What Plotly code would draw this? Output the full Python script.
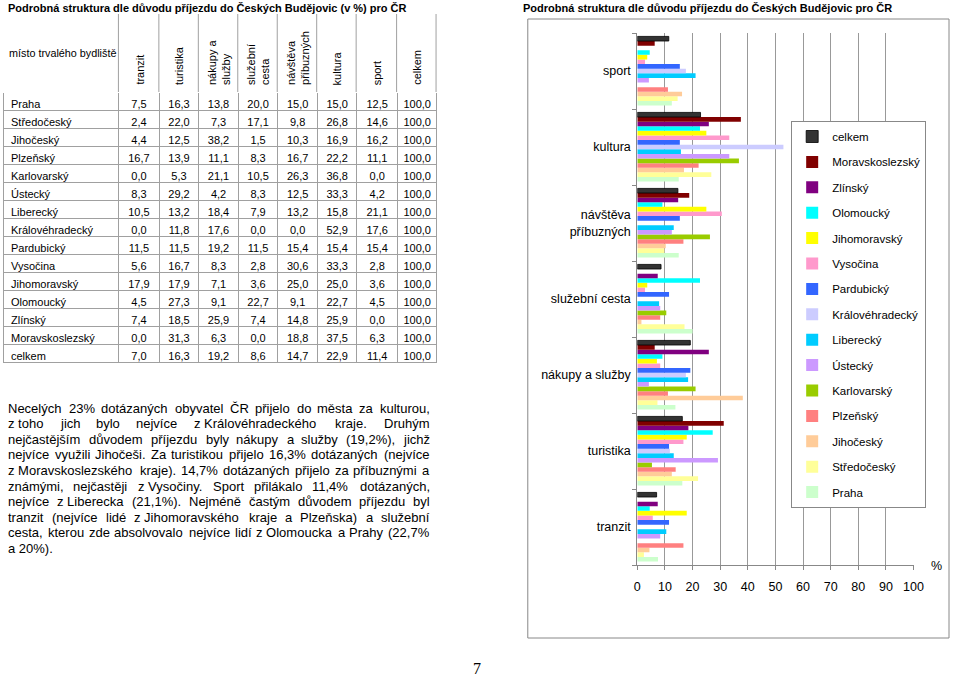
import unicodedata
import plotly.graph_objects as go

# ---------------- data ----------------
regions = ["Praha", "Středočeský", "Jihočeský", "Plzeňský", "Karlovarský", "Ústecký",
           "Liberecký", "Královéhradecký", "Pardubický", "Vysočina", "Jihomoravský",
           "Olomoucký", "Zlínský", "Moravskoslezský", "celkem"]
reasons = ["tranzit", "turistika", "nákupy a služby", "služební cesta",
           "návštěva příbuzných", "kultura", "sport"]
reason_labels = ["tranzit", "turistika", "nákupy a služby", "služební cesta",
                 "návštěva<br>příbuzných", "kultura", "sport"]
header_labels = ["tranzit", "turistika", "nákupy a<br>služby", "služební<br>cesta",
                 "návštěva<br>příbuzných", "kultura", "sport", "celkem"]

tranzit   = [7.5, 2.4, 4.4, 16.7, 0.0, 8.3, 10.5, 0.0, 11.5, 5.6, 17.9, 4.5, 7.4, 0.0, 7.0]
turistika = [16.3, 22.0, 12.5, 13.9, 5.3, 29.2, 13.2, 11.8, 11.5, 16.7, 17.9, 27.3, 18.5, 31.3, 16.3]
nakupy    = [13.8, 7.3, 38.2, 11.1, 21.1, 4.2, 18.4, 17.6, 19.2, 8.3, 7.1, 9.1, 25.9, 6.3, 19.2]
sluzebni  = [20.0, 17.1, 1.5, 8.3, 10.5, 8.3, 7.9, 0.0, 11.5, 2.8, 3.6, 22.7, 7.4, 0.0, 8.6]
navsteva  = [15.0, 9.8, 10.3, 16.7, 26.3, 12.5, 13.2, 0.0, 15.4, 30.6, 25.0, 9.1, 14.8, 18.8, 14.7]
kultura   = [15.0, 26.8, 16.9, 22.2, 36.8, 33.3, 15.8, 52.9, 15.4, 33.3, 25.0, 22.7, 25.9, 37.5, 22.9]
sport     = [12.5, 14.6, 16.2, 11.1, 0.0, 4.2, 21.1, 17.6, 15.4, 2.8, 3.6, 4.5, 0.0, 6.3, 11.4]
celkem    = [100.0] * 15

colors = {
    "celkem": "#333333", "Moravskoslezský": "#800000", "Zlínský": "#800080",
    "Olomoucký": "#00FFFF", "Jihomoravský": "#FFFF00", "Vysočina": "#FF99CC",
    "Pardubický": "#3366FF", "Královéhradecký": "#CCCCFF", "Liberecký": "#00CCFF",
    "Ústecký": "#CC99FF", "Karlovarský": "#99CC00", "Plzeňský": "#FF8080",
    "Jihočeský": "#FFCC99", "Středočeský": "#FFFF99", "Praha": "#CCFFCC",
}

title_left = "Podrobná struktura dle důvodu příjezdu do Českých Budějovic (v %) pro ČR"
title_right = "Podrobná struktura dle důvodu příjezdu do Českých Budějovic pro ČR"
text_lines = [
    "Necelých 23% dotázaných obyvatel ČR přijelo do města za kulturou,",
    "z\u00a0toho jich bylo nejvíce z\u00a0Královéhradeckého kraje. Druhým",
    "nejčastějším důvodem příjezdu byly nákupy a služby (19,2%), jichž",
    "nejvíce využili Jihočeši. Za turistikou přijelo 16,3% dotázaných (nejvíce",
    "z\u00a0Moravskoslezského kraje). 14,7% dotázaných přijelo za příbuznými a",
    "známými, nejčastěji z\u00a0Vysočiny. Sport přilákalo 11,4% dotázaných,",
    "nejvíce z\u00a0Liberecka (21,1%). Nejméně častým důvodem příjezdu byl",
    "tranzit (nejvíce lidé z\u00a0Jihomoravského kraje a Plzeňska) a služební",
    "cesta, kterou zde absolvovalo nejvíce lidí z\u00a0Olomoucka a Prahy (22,7%",
    "a 20%).",
]

# ---------------- helpers ----------------
W, H = 960, 676
FONT = "Liberation Sans, Arial, sans-serif"
GRID = "#A0A0A0"


def px(x):
    return x / W


def py(y):
    return 1 - y / H


def fmt(v):
    return f"{v:.1f}".replace(".", ",")


AW = {' ': 278, '\u00a0': 278, 'a': 556, 'b': 556, 'c': 500, 'd': 556, 'e': 556, 'f': 278,
      'g': 556, 'h': 556, 'i': 222, 'j': 222, 'k': 500, 'l': 222, 'm': 833, 'n': 556,
      'o': 556, 'p': 556, 'q': 556, 'r': 333, 's': 500, 't': 278, 'u': 556, 'v': 500,
      'w': 722, 'x': 500, 'y': 500, 'z': 500, '%': 889, '(': 333, ')': 333, ',': 278,
      '.': 278, 'C': 722, 'R': 722, 'N': 722, 'D': 722, 'K': 667, 'J': 500, 'Z': 611,
      'M': 833, 'S': 667, 'V': 667, 'O': 778, 'P': 667, 'L': 556}


def text_width(s, fs):
    tot = 0
    for ch in s:
        if ch.isdigit():
            tot += 556
            continue
        if ch == 'í':
            tot += 278
            continue
        base = unicodedata.normalize("NFD", ch)[0]
        tot += AW.get(base, 556)
    return tot * fs / 1000


cols = {"tranzit": tranzit, "turistika": turistika, "nákupy a služby": nakupy,
        "služební cesta": sluzebni, "návštěva příbuzných": navsteva,
        "kultura": kultura, "sport": sport}

fig = go.Figure()

# ---------------- table ----------------
colw = [117, 41, 40, 40, 40, 40, 40, 41, 40]
table_cols = [regions] + [[fmt(v) for v in cols[r]] for r in reasons] + [[fmt(v) for v in celkem]]
fig.add_trace(go.Table(
    domain=dict(x=[0, px(440)], y=[py(366), py(14)]),
    columnwidth=colw,
    header=dict(values=[""] * 9, height=78,
                fill=dict(color="white"), line=dict(color="white", width=1),
                font=dict(family=FONT, size=11, color="black")),
    cells=dict(values=table_cols, height=18,
               align=["left"] + ["center"] * 8,
               font=dict(family=FONT, size=11, color="black"),
               line=dict(color=GRID, width=1),
               fill=dict(color="white")),
))

# ---------------- bar chart ----------------
n = len(regions)
for i, reg in enumerate(regions):  # Praha first -> bottom of each group
    vals = [cols[r][i] for r in reasons]
    fig.add_trace(go.Bar(
        y=reason_labels, x=vals, orientation="h", name=reg, legendgroup=reg,
        legendrank=n - i,
        marker=dict(color=colors[reg],
                    line=dict(color="#000000" if reg == "celkem" else colors[reg],
                              width=0.8 if reg == "celkem" else 0)),
        hoverinfo="x+name",
    ))

fig.update_layout(
    width=W, height=H, autosize=False,
    margin=dict(l=0, r=0, t=0, b=0),
    paper_bgcolor="white", plot_bgcolor="white",
    font=dict(family=FONT, color="black"),
    barmode="group", bargap=0.09, bargroupgap=0,
    xaxis=dict(domain=[px(643), px(923)], range=[0, 100], dtick=10,
               showgrid=True, gridcolor="#999999", gridwidth=1,
               showline=True, linecolor="#888888", linewidth=1,
               ticks="outside", ticklen=4, tickcolor="#888888", ticklabelstandoff=6,
               zeroline=False, tickfont=dict(size=12.5, family=FONT)),
    yaxis=dict(domain=[py(565), py(33)], type="category",
               categoryorder="array", categoryarray=reason_labels,
               showgrid=False, showline=True, linecolor="#888888", linewidth=1,
               ticks="outside", ticklen=4, tickcolor="#888888", tickson="boundaries",
               ticklabelstandoff=3,
               zeroline=False, tickfont=dict(size=12.5, family=FONT)),
    legend=dict(x=px(799), y=py(121), xanchor="left", yanchor="top",
                traceorder="grouped", tracegroupgap=6.4,
                bgcolor="white", bordercolor="#888888", borderwidth=1,
                font=dict(size=11.5, family=FONT)),
    showlegend=True,
)

shapes = []
anns = []

# chart frame
shapes.append(dict(type="rect", xref="paper", yref="paper",
                   x0=px(532), x1=px(959), y0=py(638), y1=py(19),
                   line=dict(color="#888888", width=1), layer="below"))

# table header vertical lines
xb = 0
for w in colw:
    xb += w
    shapes.append(dict(type="line", xref="paper", yref="paper",
                       x0=px(xb), x1=px(xb), y0=py(92), y1=py(14),
                       line=dict(color=GRID, width=1)))

# header texts
anns.append(dict(text="místo trvalého bydliště", x=px(4), y=py(53), xref="paper", yref="paper",
                 xanchor="left", yanchor="middle", showarrow=False,
                 font=dict(size=10.8, family=FONT)))
xb = colw[0]
for lab, w in zip(header_labels, colw[1:]):
    anns.append(dict(text=lab, x=px(xb + w / 2 + 1), y=py(87), xref="paper", yref="paper",
                     xanchor="center", yanchor="bottom", textangle=-90, align="left",
                     showarrow=False, font=dict(size=11, family=FONT)))
    xb += w

# titles
anns.append(dict(text="<b>" + title_left + "</b>", x=px(3), y=py(8), xref="paper", yref="paper",
                 xanchor="left", yanchor="middle", showarrow=False,
                 font=dict(size=11, family=FONT)))
anns.append(dict(text="<b>" + title_right + "</b>", x=px(525), y=py(8), xref="paper", yref="paper",
                 xanchor="left", yanchor="middle", showarrow=False,
                 font=dict(size=11, family=FONT)))

# % label
anns.append(dict(text="%", x=px(946), y=py(566), xref="paper", yref="paper",
                 xanchor="center", yanchor="middle", showarrow=False,
                 font=dict(size=12.5, family=FONT)))

# page number
anns.append(dict(text="7", x=px(480), y=py(668), xref="paper", yref="paper",
                 xanchor="center", yanchor="middle", showarrow=False,
                 font=dict(size=16, family="Liberation Serif, Times New Roman, serif")))

# justified paragraph
FS = 13
LX, RX = 5, 433
FUDGE = 1.04
for li, line in enumerate(text_lines):
    yy = py(408 + li * 15.6)
    words = line.split(" ")
    if li == len(text_lines) - 1 or len(words) == 1:
        anns.append(dict(text=line, x=px(LX), y=yy, xref="paper", yref="paper",
                         xanchor="left", yanchor="middle", showarrow=False,
                         borderpad=0, borderwidth=0, font=dict(size=FS, family=FONT)))
        continue
    ws = [text_width(w_, FS) * FUDGE for w_ in words]
    gap = (RX - LX - sum(ws)) / (len(words) - 1)
    xcur = LX
    for k, (wd, wwid) in enumerate(zip(words, ws)):
        last = k == len(words) - 1
        anns.append(dict(text=wd, x=px(RX if last else xcur), y=yy, xref="paper", yref="paper",
                         xanchor="right" if last else "left", yanchor="middle",
                         showarrow=False, borderpad=0, borderwidth=0,
                         font=dict(size=FS, family=FONT)))
        xcur += wwid + gap

fig.update_layout(shapes=shapes, annotations=anns)
fig.write_html(
    "out.html",
    config={"displayModeBar": False, "responsive": False},
    post_script=("document.documentElement.style.overflow='hidden';"
                 "document.body.style.overflow='hidden';"
                 "document.body.style.margin='0px';"),
)
